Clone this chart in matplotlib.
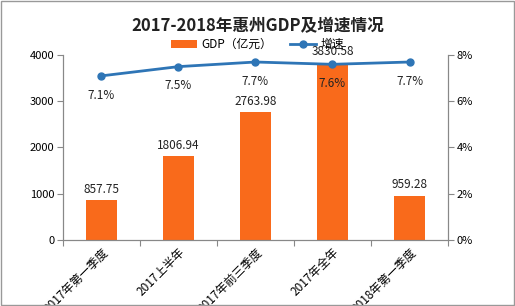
import matplotlib
matplotlib.use("Agg")
import matplotlib.pyplot as plt
from matplotlib.patches import Rectangle

plt.rcParams['font.family'] = ['Noto Sans CJK SC', 'DejaVu Sans']

categories = ["2017年第一季度", "2017上半年", "2017年前三季度", "2017年全年", "2018年第一季度"]
gdp = [857.75, 1806.94, 2763.98, 3830.58, 959.28]
growth = [7.1, 7.5, 7.7, 7.6, 7.7]
gdp_labels = ["857.75", "1806.94", "2763.98", "3830.58", "959.28"]
growth_labels = ["7.1%", "7.5%", "7.7%", "7.6%", "7.7%"]

bar_color = '#F96A1B'
line_color = '#2E75B6'
grey = '#888888'

fig = plt.figure(figsize=(5.15, 3.06), dpi=100)
ax = fig.add_axes([0.122, 0.216, 0.748, 0.604])
ax2 = ax.twinx()

x = list(range(len(categories)))
ax.bar(x, gdp, width=0.4, color=bar_color, label='GDP（亿元）', zorder=2)
ax.set_xlim(-0.5, len(categories) - 0.5)
ax.set_ylim(0, 4000)
ax.set_yticks([0, 1000, 2000, 3000, 4000])
ax.set_yticklabels(['0', '1000', '2000', '3000', '4000'], fontsize=8)
ax.set_xticks([i - 0.5 for i in range(len(categories) + 1)])
ax.set_xticklabels([])
ax.set_xticks(x, minor=True)
ax.set_xticklabels(categories, minor=True, rotation=45, ha='right', rotation_mode='anchor', fontsize=8.5)
ax.tick_params(axis='x', which='minor', length=0, pad=4)
ax.tick_params(axis='x', which='major', length=4, color=grey, direction='out')
ax.tick_params(axis='y', length=4, color=grey, direction='out', pad=2)

for i, (v, t) in enumerate(zip(gdp, gdp_labels)):
    ax.text(i, v + 100, t, ha='center', va='bottom', fontsize=8.5, color='#222222', zorder=5)

ax2.plot(x, growth, color=line_color, lw=2, marker='o', ms=5, label='增速', zorder=4)
ax2.set_ylim(0, 8)
ax2.set_yticks([0, 2, 4, 6, 8])
ax2.set_yticklabels(['0%', '2%', '4%', '6%', '8%'], fontsize=8)
ax2.tick_params(axis='y', length=4, color=grey, direction='out', pad=2)
for i, (v, t) in enumerate(zip(growth, growth_labels)):
    ax2.text(i, v - 0.55, t, ha='center', va='top', fontsize=8.5, color='#222222', zorder=5)

for a in (ax, ax2):
    a.spines['top'].set_visible(False)
    for s in ('left', 'right', 'bottom'):
        a.spines[s].set_color(grey)
        a.spines[s].set_linewidth(0.8)
ax.set_zorder(ax2.get_zorder() + 1) if False else None

fig.text(0.5, 0.915, '2017-2018年惠州GDP及增速情况', ha='center', va='center',
         fontsize=12, fontweight='bold', color='#222222')

h1, l1 = ax.get_legend_handles_labels()
h2, l2 = ax2.get_legend_handles_labels()
fig.legend(h1 + h2, l1 + l2, loc='center', bbox_to_anchor=(0.5, 0.855), ncol=2,
           frameon=False, fontsize=8.5, handlelength=2.2, columnspacing=1.5,
           handletextpad=0.4)

fig.patches.append(Rectangle((0.002, 0.003), 0.996, 0.994, transform=fig.transFigure,
                             fill=False, edgecolor='#999999', lw=1))

fig.savefig('out.png', dpi=100)
